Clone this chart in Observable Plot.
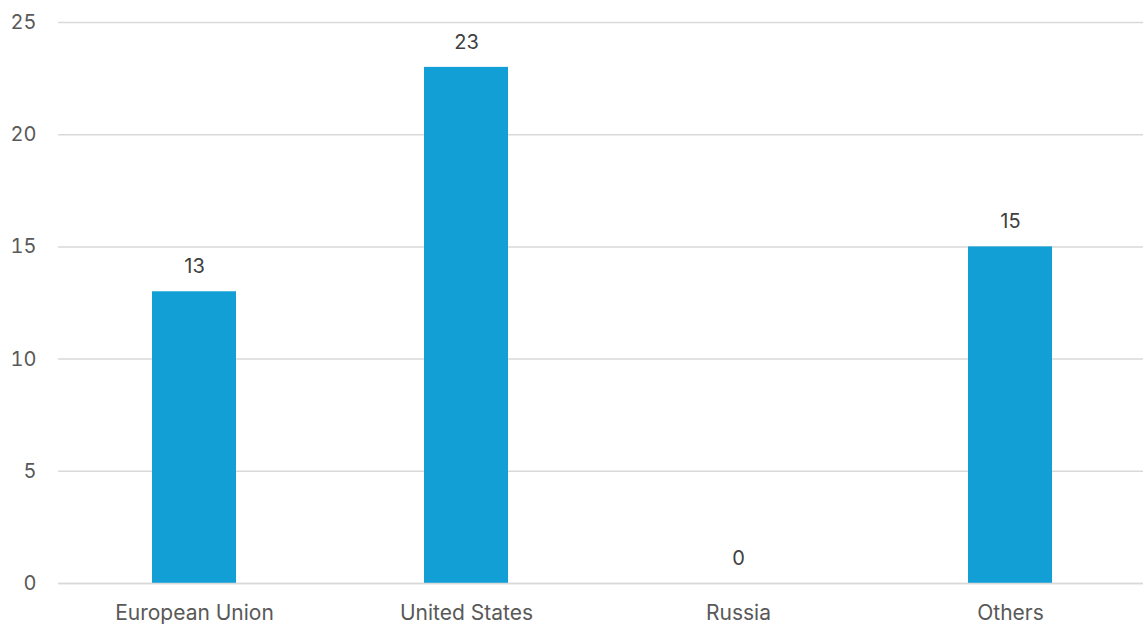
<!DOCTYPE html>
<html>
<head>
<meta charset="utf-8">
<script src="https://cdn.jsdelivr.net/npm/d3@7"></script>
<script src="https://cdn.jsdelivr.net/npm/@observablehq/plot@0.6"></script>
<style>
  html, body { margin: 0; padding: 0; background: #fff; }
  #chart svg { display: block; }
</style>
</head>
<body>
<div id="chart"></div>
<script>
// Categories and their values
const categories = ["European Union", "United States", "Russia", "Others"];
const values = [13, 23, 0, 15];
const yTicks = [0, 5, 10, 15, 20, 25];

const data = categories.map((c, i) => ({category: c, value: values[i]}));

const chart = Plot.plot({
  width: 1143,
  height: 626,
  marginLeft: 58,
  marginRight: -4,
  marginTop: 22,
  marginBottom: 43,
  style: {fontFamily: "Inter, sans-serif", fontSize: "20px", background: "#fff", overflow: "hidden"},
  x: {domain: categories, paddingInner: 0.69, paddingOuter: 0.345, label: null},
  y: {domain: [0, 25], label: null},
  marks: [
    Plot.gridY(yTicks, {stroke: "#d9d9d9", strokeOpacity: 1, strokeWidth: 1.5}),
    Plot.axisY(yTicks, {tickSize: 0, tickPadding: 22, fill: "#595959", fontSize: 20, label: null}),
    Plot.axisX({tickSize: 0, tickPadding: 22, fill: "#595959", fontSize: 21, label: null}),
    Plot.barY(data, {x: "category", y: "value", fill: "#119fd6"}),
    Plot.ruleY([0], {stroke: "#d9d9d9", strokeWidth: 1.5}),
    Plot.text(data, {x: "category", y: "value", text: d => String(d.value), dy: -25, fill: "#404040", fontSize: 20})
  ]
});

document.getElementById("chart").appendChild(chart);
</script>
</body>
</html>
